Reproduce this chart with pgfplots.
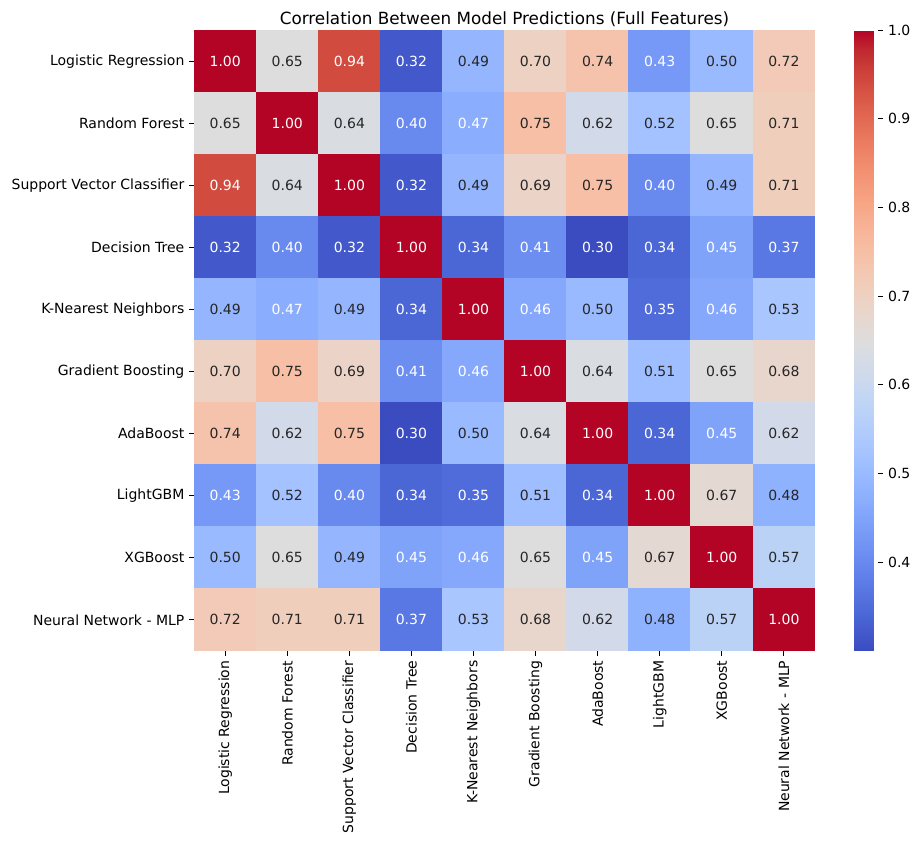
\documentclass[border=0pt]{standalone}
\usepackage{fontspec}
\setmainfont{DejaVu Sans}
\usepackage{pgfplots}
\usepackage{pgfplotstable}
\pgfplotsset{compat=1.18}
\definecolor{txtdark}{rgb}{0.15,0.15,0.15}
% matplotlib coolwarm, 33 samples
\pgfplotsset{colormap={coolwarm}{
rgb255=(59,76,192) rgb255=(68,90,204) rgb255=(77,104,215) rgb255=(87,117,225)
rgb255=(98,130,234) rgb255=(108,142,241) rgb255=(119,154,247) rgb255=(130,165,251)
rgb255=(141,176,254) rgb255=(152,185,255) rgb255=(163,194,255) rgb255=(174,201,253)
rgb255=(184,208,249) rgb255=(194,213,244) rgb255=(204,217,238) rgb255=(213,219,230)
rgb255=(221,221,221) rgb255=(229,216,209) rgb255=(236,211,197) rgb255=(241,204,185)
rgb255=(245,196,173) rgb255=(247,187,160) rgb255=(247,177,148) rgb255=(247,166,135)
rgb255=(244,154,123) rgb255=(241,141,111) rgb255=(236,127,99) rgb255=(229,112,88)
rgb255=(222,96,77) rgb255=(213,80,66) rgb255=(203,62,56) rgb255=(192,40,47)
rgb255=(180,4,38)}}

\pgfplotstableread{
x y c
0 0 1.00
1 0 0.65
2 0 0.94
3 0 0.32
4 0 0.49
5 0 0.70
6 0 0.74
7 0 0.43
8 0 0.50
9 0 0.72
0 1 0.65
1 1 1.00
2 1 0.64
3 1 0.40
4 1 0.47
5 1 0.75
6 1 0.62
7 1 0.52
8 1 0.65
9 1 0.71
0 2 0.94
1 2 0.64
2 2 1.00
3 2 0.32
4 2 0.49
5 2 0.69
6 2 0.75
7 2 0.40
8 2 0.49
9 2 0.71
0 3 0.32
1 3 0.40
2 3 0.32
3 3 1.00
4 3 0.34
5 3 0.41
6 3 0.30
7 3 0.34
8 3 0.45
9 3 0.37
0 4 0.49
1 4 0.47
2 4 0.49
3 4 0.34
4 4 1.00
5 4 0.46
6 4 0.50
7 4 0.35
8 4 0.46
9 4 0.53
0 5 0.70
1 5 0.75
2 5 0.69
3 5 0.41
4 5 0.46
5 5 1.00
6 5 0.64
7 5 0.51
8 5 0.65
9 5 0.68
0 6 0.74
1 6 0.62
2 6 0.75
3 6 0.30
4 6 0.50
5 6 0.64
6 6 1.00
7 6 0.34
8 6 0.45
9 6 0.62
0 7 0.43
1 7 0.52
2 7 0.40
3 7 0.34
4 7 0.35
5 7 0.51
6 7 0.34
7 7 1.00
8 7 0.67
9 7 0.48
0 8 0.50
1 8 0.65
2 8 0.49
3 8 0.45
4 8 0.46
5 8 0.65
6 8 0.45
7 8 0.67
8 8 1.00
9 8 0.57
0 9 0.72
1 9 0.71
2 9 0.71
3 9 0.37
4 9 0.53
5 9 0.68
6 9 0.62
7 9 0.48
8 9 0.57
9 9 1.00
}\corr

\newcommand\celltext[1]{%
  \ifdim#1pt<0.475pt\color{white}\else
    \ifdim#1pt>0.85pt\color{white}\else\color{txtdark}\fi
  \fi
  \pgfmathprintnumber[fixed,fixed zerofill,precision=2,assume math mode=true]{#1}}

\begin{document}
\begin{tikzpicture}
\begin{axis}[
  scale only axis,
  width=443.5bp, height=443.5bp,
  xmin=-0.5, xmax=9.5, ymin=-0.5, ymax=9.5,
  y dir=reverse,
  axis line style={draw=none},
  xtick={0,...,9}, ytick={0,...,9},
  xtick pos=lower, ytick pos=left,
  tick align=outside,
  major tick length=3.5bp,
  tick style={black, line width=0.6bp},
  font=\fontsize{10bp}{12bp}\selectfont,
  xticklabels={Logistic Regression, Random Forest, Support Vector Classifier, Decision Tree, K-Nearest Neighbors, Gradient Boosting, AdaBoost, LightGBM, XGBoost, Neural Network - MLP},
  yticklabels={Logistic Regression, Random Forest, Support Vector Classifier, Decision Tree, K-Nearest Neighbors, Gradient Boosting, AdaBoost, LightGBM, XGBoost, Neural Network - MLP},
  xticklabel style={rotate=90, anchor=east},
  yticklabel style={anchor=east},
  title={Correlation Between Model Predictions (Full Features)},
  title style={font=\fontsize{12bp}{14bp}\selectfont, yshift=-7bp},
  colormap name=coolwarm,
  point meta min=0.30, point meta max=1.00,
  colorbar right,
  colorbar shift/.style={xshift=28bp},
  colorbar style={
    at={(parent axis.north east)}, anchor=north west,
    width=17.3bp,
    axis line style={draw=none},
    ytick={0.4,0.5,...,1.0},
    ytick pos=right,
    tick align=outside,
    major tick length=3.5bp,
    tick style={black, line width=0.6bp},
    yticklabel style={font=\fontsize{10bp}{12bp}\selectfont,
      /pgf/number format/.cd, fixed, fixed zerofill, precision=1, assume math mode=true},
  },
]
\addplot[matrix plot*, mesh/cols=10, point meta=explicit] table[x=x, y=y, meta=c] {\corr};
\addplot[draw=none, mark=none, point meta=explicit,
  visualization depends on={\thisrow{c} \as \cval},
  nodes near coords={\celltext{\cval}},
  nodes near coords style={anchor=center, font=\fontsize{10bp}{12bp}\selectfont},
] table[x=x, y=y, meta=c] {\corr};
\end{axis}
\path ([shift={(-5bp,-5bp)}]current bounding box.south west) rectangle ([shift={(5bp,5bp)}]current bounding box.north east);
\end{tikzpicture}
\end{document}
